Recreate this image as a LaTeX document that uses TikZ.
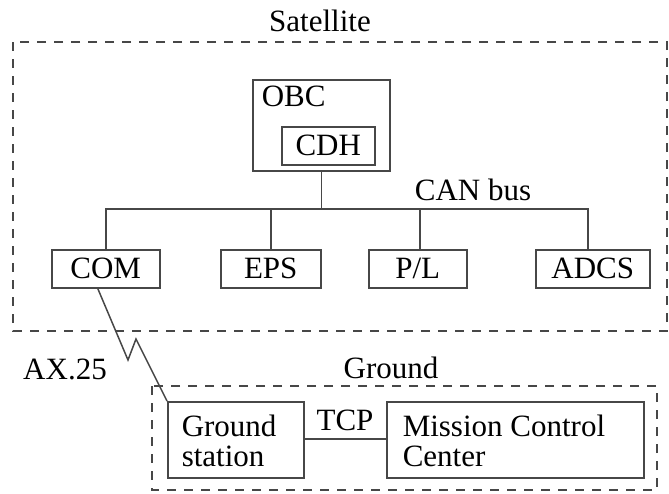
\documentclass[tikz,border=0pt]{standalone}
\usepackage{fontspec}
\setmainfont{Liberation Serif}
\begin{document}
\begin{tikzpicture}[x=1pt,y=-1pt,
  line width=1.5pt,
  lc/.style={draw=black!72},
  blk/.style={lc, rectangle, inner sep=0pt, anchor=north west},
  grp/.style={lc, dashed, dash pattern=on 9pt off 8pt},
  lbl/.style={inner sep=0pt, font=\fontsize{31}{30}\selectfont, text=black},
]
\useasboundingbox (0,0) rectangle (669,493);
% groups
\draw[grp] (13,42) rectangle (667,331);
\draw[grp] (152,386) rectangle (657,490);
\node[lbl] (satlbl) at (320,21) {Satellite};
\node[lbl] (gndlbl) at (391,368) {Ground};
% OBC
\node[blk, minimum width=137pt, minimum height=91pt] (obc) at (252,79) {};
\node[lbl, anchor=north west] (obclbl) at (261,85) {OBC};
\node[blk, minimum width=93pt, minimum height=38pt] (cdh) at (281,126) {};
\node[lbl] (cdhlbl) at (cdh.center) {CDH};
% subsystems
\node[blk, minimum width=108pt, minimum height=38pt, lbl, draw=black!72, anchor=north west] (com) at (51,249) {COM};
\node[blk, minimum width=100pt, minimum height=38pt, lbl, draw=black!72, anchor=north west] (eps) at (220,249) {EPS};
\node[blk, minimum width=98pt, minimum height=38pt, lbl, draw=black!72, anchor=north west] (pl) at (368,249) {P/L};
\node[blk, minimum width=114pt, minimum height=38pt, lbl, draw=black!72, anchor=north west] (adcs) at (535,249) {ADCS};
% CAN bus
\coordinate (bus) at (320,209);
\coordinate (adcsdrop) at (588,249);
\draw[lc] (obc.south) -- (obc.south |- bus);
\draw[lc] (com.north) |- (bus) -| (adcsdrop);
\draw[lc] (eps.north) -- (eps.north |- bus);
\draw[lc] ([xshift=2pt]pl.north) -- ([xshift=2pt]pl.north |- bus);
\node[lbl] (canlbl) at (473,190) {CAN bus};
% ground
\node[blk, minimum width=136pt, minimum height=76pt] (gs) at (167,401) {};
\node[lbl, align=left, anchor=north west] (gstxt) at (181,414) {Ground\\station};
\node[blk, minimum width=257pt, minimum height=76pt] (mcc) at (386,401) {};
\node[lbl, align=left, anchor=north west] (mcctxt) at (402,414) {Mission Control\\Center};
\draw[lc] (gs.east |- 0,439) -- (mcc.west |- 0,439);
\node[lbl] (tcplbl) at (345,420) {TCP};
% radio link
\draw[lc, line join=miter] ([xshift=-8pt]com.south) -- (128,360) -- (136,339) -- (gs.north west);
\node[lbl] (axlbl) at (65,369) {AX.25};
\end{tikzpicture}
\end{document}
